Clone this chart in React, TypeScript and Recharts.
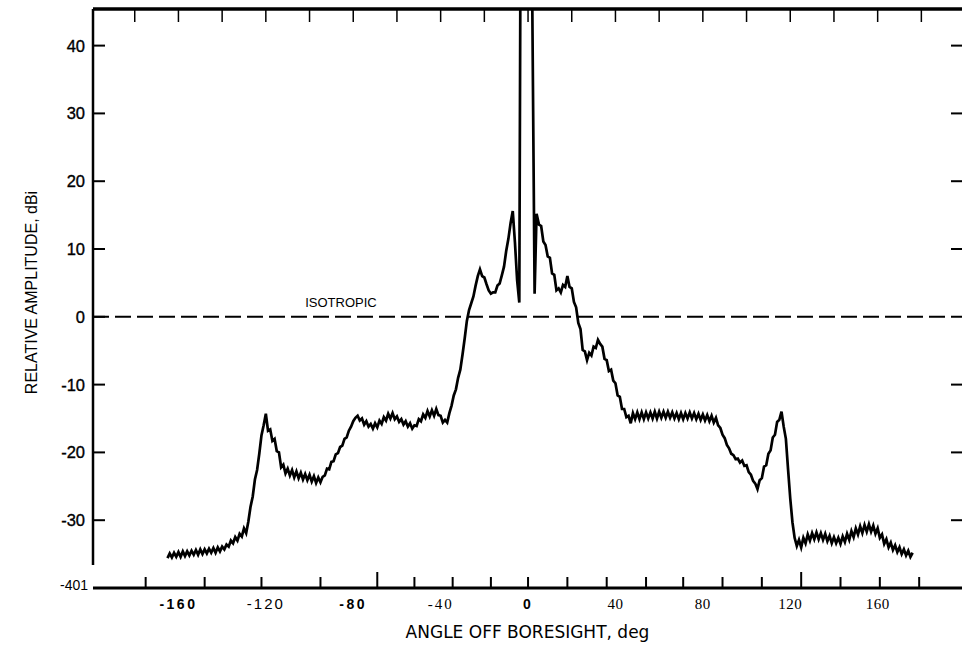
import { LineChart, Line, XAxis, YAxis, ReferenceLine, ReferenceDot, Label } from 'recharts';

// angle off boresight (deg)
const angleDeg = [
  -165, -164, -163, -162, -161, -160, -159, -158, -157, -156,
  -155, -154, -153, -152, -151, -150, -149, -148, -147, -146,
  -145, -144, -143, -142, -141, -140, -139, -138, -137, -136,
  -135, -134, -133, -132, -131, -130, -129, -128, -127, -126,
  -125, -124, -123, -122, -121, -120, -119, -118, -117, -116,
  -115, -114, -113, -112, -111, -110, -109, -108, -107, -106,
  -105, -104, -103, -102, -101, -100, -99, -98, -97, -96,
  -95, -94, -93, -92, -91, -90, -89, -88, -87, -86,
  -85, -84, -83, -82, -81, -80, -79, -78, -77, -76,
  -75, -74, -73, -72, -71, -70, -69, -68, -67, -66,
  -65, -64, -63, -62, -61, -60, -59, -58, -57, -56,
  -55, -54, -53, -52, -51, -50, -49, -48, -47, -46,
  -45, -44, -43, -42, -41, -40, -39, -38, -37, -36,
  -35, -34, -33, -32, -31, -30, -29, -28, -27, -26,
  -25, -24, -23, -22, -21, -20, -19, -18, -17, -16,
  -15, -14, -13, -12, -11, -10, -9, -8, -7, -6,
  -5, -4,
  -3.4, 1.6, 3.0, 3.9,
  5, 6, 7, 8, 9, 10, 11, 12, 13, 14,
  15, 16, 17, 18, 19, 20, 21, 22, 23, 24,
  25, 26, 27, 28, 29, 30, 31, 32, 33, 34,
  35, 36, 37, 38, 39, 40, 41, 42, 43, 44,
  45, 46, 47, 48, 49, 50, 51, 52, 53, 54,
  55, 56, 57, 58, 59, 60, 61, 62, 63, 64,
  65, 66, 67, 68, 69, 70, 71, 72, 73, 74,
  75, 76, 77, 78, 79, 80, 81, 82, 83, 84,
  85, 86, 87, 88, 89, 90, 91, 92, 93, 94,
  95, 96, 97, 98, 99, 100, 101, 102, 103, 104,
  105, 106, 107, 108, 109, 110, 111, 112, 113, 114,
  115, 116, 117, 118, 119, 120, 121, 122, 123, 124,
  125, 126, 127, 128, 129, 130, 131, 132, 133, 134,
  135, 136, 137, 138, 139, 140, 141, 142, 143, 144,
  145, 146, 147, 148, 149, 150, 151, 152, 153, 154,
  155, 156, 157, 158, 159, 160, 161, 162, 163, 164,
  165, 166, 167, 168, 169, 170, 171, 172, 173, 174,
  175, 176,
];

// relative amplitude (dBi); the main beam runs off the top of the plot
const amplitudeDbi = [
  -35.6, -34.9, -35.5, -34.8, -35.4, -34.7, -35.4, -34.6, -35.3, -34.6,
  -35.2, -34.5, -35.1, -34.4, -35.1, -34.3, -35.0, -34.3, -34.9, -34.2,
  -34.8, -34.1, -34.8, -34.0, -34.6, -33.9, -34.3, -33.6, -33.9, -33.0,
  -33.4, -32.5, -33.0, -32.0, -32.4, -31.2, -31.9, -30.2, -28.0, -26.5,
  -24.0, -22.6, -20.2, -17.5, -16.0, -14.3, -16.8, -16.6, -18.3, -18.0,
  -19.8, -20.0, -22.2, -21.8, -23.1, -22.4, -23.4, -22.6, -23.7, -22.8,
  -23.8, -23.0, -24.0, -23.2, -24.1, -23.3, -24.3, -23.5, -24.5, -23.7,
  -24.4, -23.6, -23.4, -22.4, -22.5, -21.4, -21.3, -20.3, -20.1, -19.2,
  -19.0, -18.0, -17.8, -16.8, -16.2, -15.4, -14.9, -14.6, -15.3, -15.0,
  -15.9, -15.4, -16.2, -15.8, -16.5, -15.7, -16.3, -15.3, -15.8, -14.8,
  -15.3, -14.3, -15.0, -14.2, -15.1, -14.7, -15.5, -15.1, -15.9, -15.4,
  -16.2, -15.7, -16.5, -16.0, -16.1, -15.1, -15.4, -14.4, -14.9, -13.9,
  -14.7, -13.8, -14.6, -13.6, -14.5, -14.6, -15.6, -15.2, -15.6, -14.2,
  -13.1, -11.6, -10.7, -9.0, -7.8, -5.6, -3.2, -0.6, 1.0, 2.0,
  3.0, 4.6, 6.0, 7.0, 6.0, 5.8, 4.8, 3.9, 3.4, 3.6,
  3.6, 4.6, 4.9, 6.1, 7.4, 9.7, 11.5, 13.8, 15.6, 11.0,
  5.4, 2.1,
  60, 60, 3.4, 15.2,
  13.6, 13.4, 11.1, 10.6, 8.9, 8.7, 6.4, 6.2, 3.9, 4.2,
  3.6, 4.7, 4.4, 6.0, 4.4, 4.2, 2.2, 1.4, -0.9, -1.8,
  -4.9, -5.1, -6.4, -5.3, -5.7, -4.4, -4.6, -3.4, -4.0, -4.4,
  -6.2, -6.4, -8.0, -7.8, -9.4, -9.8, -11.6, -11.8, -13.6, -13.6,
  -14.8, -14.6, -15.7, -14.2, -15.1, -14.1, -15.1, -14.1, -15.1, -14.1,
  -15.0, -14.1, -15.0, -14.0, -15.0, -14.0, -14.9, -14.0, -14.9, -14.0,
  -14.9, -14.1, -15.0, -14.2, -15.1, -14.2, -15.1, -14.2, -15.0, -14.1,
  -15.0, -14.2, -15.1, -14.3, -15.2, -14.4, -15.3, -14.5, -15.4, -14.6,
  -15.6, -14.9, -16.0, -16.4, -17.4, -17.9, -18.9, -19.4, -20.2, -20.4,
  -21.0, -20.9, -21.5, -21.2, -22.0, -21.9, -22.9, -23.3, -24.2, -24.6,
  -25.4, -24.1, -23.8, -22.1, -21.9, -20.2, -19.7, -17.8, -17.4, -15.5,
  -15.2, -14.0, -16.2, -18.0, -22.5, -26.8, -30.3, -32.6, -33.8, -32.9,
  -34.0, -32.6, -33.4, -32.1, -33.0, -31.9, -32.8, -31.8, -32.8, -31.9,
  -32.9, -32.0, -33.1, -32.3, -33.4, -32.5, -33.4, -32.6, -33.5, -32.4,
  -33.2, -32.0, -32.9, -31.6, -32.5, -31.2, -32.1, -30.9, -31.9, -30.7,
  -31.7, -30.6, -31.7, -30.8, -32.0, -31.2, -32.6, -32.1, -33.5, -32.8,
  -34.0, -33.3, -34.4, -33.7, -34.7, -34.0, -35.0, -34.3, -35.2, -34.5,
  -35.4, -34.8,
];

const xLabelValues = [-160, -120, -80, -40, 0, 40, 80, 120, 160];
const bottomTickMarks = [-175, -148, -122, -95, -69, -52, -34.5, -17, 0, 18, 36, 54, 71, 89, 107, 125, 143, 161, 179];
const topTickMarks = [-180, -160, -140, -120, -100, -80, -60, -40, -20, 0, 20, 40, 60, 80, 100, 120, 140, 160, 180];
const yTickValues = [-40, -30, -20, -10, 0, 10, 20, 30, 40];
const yTickLabels = ['-401', '-30', '-20', '-10', '0', '10', '20', '30', '40'];
const rightTickValues = [-30, -20, -10, 10, 20, 30, 40];
const isotropicLevel = 0;
const isotropicLabelAngle = -102;
const xDomain = [-199.1, 198.6];
const yDomain = [-40, 45.4];
const leftAxisBottom = -36.6;

const data = angleDeg.map((angle, i) => ({ angle, dbi: amplitudeDbi[i] }));

const SANS = '"Liberation Sans", Arial, Helvetica, sans-serif';
const SERIF = '"Liberation Serif", "Times New Roman", serif';

const sansBold = { family: SANS, weight: 700, size: 14, spacing: 2.5 };
const sansPlain = { family: SANS, weight: 400, size: 15, spacing: 2 };
const serifPlain = { family: SERIF, weight: 400, size: 15, spacing: 0.5 };
const labelFace: Record<string, typeof sansBold> = {
  '-160': sansBold,
  '-120': sansPlain,
  '-80': sansBold,
  '-40': { ...serifPlain, spacing: 2 },
  '0': sansBold,
  '40': serifPlain,
  '80': serifPlain,
  '120': serifPlain,
  '160': serifPlain,
};
const tallMarks = [-69, 125];

const bottomTicks = Array.from(new Set([...xLabelValues, ...bottomTickMarks])).sort((a, b) => a - b);

function BottomTick(props: any) {
  const { x, y, payload } = props;
  const v = payload.value as number;
  const face = labelFace[String(v)];
  return (
    <g>
      {bottomTickMarks.includes(v) && (
        <line x1={x} x2={x} y1={y} y2={y - (tallMarks.includes(v) ? 16 : 11)} stroke="#000" strokeWidth={2} />
      )}
      {xLabelValues.includes(v) && face && (
        <text
          x={x}
          y={y + 21}
          textAnchor="middle"
          fontFamily={face.family}
          fontWeight={face.weight}
          fontSize={face.size}
          letterSpacing={face.spacing}
          fill="#000"
        >
          {String(v)}
        </text>
      )}
    </g>
  );
}

function TopTick(props: any) {
  const { x, y } = props;
  return <line x1={x} x2={x} y1={y} y2={y + 13} stroke="#000" strokeWidth={1.5} />;
}

function LeftTick(props: any) {
  const { x, y, payload } = props;
  const v = payload.value as number;
  const label = yTickLabels[yTickValues.indexOf(v)];
  if (v === yDomain[0]) {
    return (
      <text x={x - 5} y={y + 2} textAnchor="end" fontFamily={SANS} fontSize={14} fill="#000">
        {label}
      </text>
    );
  }
  return (
    <g>
      <line x1={x} x2={x + 12} y1={y} y2={y} stroke="#000" strokeWidth={2} />
      <text
        x={x - 8}
        y={y + 6}
        textAnchor="end"
        fontFamily={SANS}
        fontSize={16.5}
        fill="#000"
        stroke="#000"
        strokeWidth={0.35}
      >
        {label}
      </text>
    </g>
  );
}

function RightTick(props: any) {
  const { x, y } = props;
  return <line x1={x - 11} x2={x} y1={y} y2={y} stroke="#000" strokeWidth={2} />;
}

function IsotropicText(props: any) {
  const { cx, cy } = props;
  return (
    <text x={cx} y={cy - 10} fontFamily={SANS} fontSize={13} fill="#000">
      ISOTROPIC
    </text>
  );
}

function YTitle(props: any) {
  const vb = props.viewBox;
  const cx = vb.x + 31;
  const cy = vb.y + vb.height / 2 - 6;
  return (
    <text
      x={cx}
      y={cy}
      transform={`rotate(-90 ${cx} ${cy})`}
      textAnchor="middle"
      dominantBaseline="central"
      fontFamily={SANS}
      fontSize={16}
      fill="#000"
    >
      RELATIVE AMPLITUDE, dBi
    </text>
  );
}

function XTitle(props: any) {
  const vb = props.viewBox;
  return (
    <text
      x={vb.x + vb.width / 2}
      y={vb.y + 50}
      textAnchor="middle"
      fontFamily='"DejaVu Sans", Verdana, sans-serif'
      fontSize={17}
      fill="#000"
    >
      ANGLE OFF BORESIGHT, deg
    </text>
  );
}

export default function App() {
  return (
    <div style={{ position: 'absolute', left: 0, top: 0, width: 963, height: 646, background: '#fff' }}>
      <LineChart width={963} height={646} data={data} margin={{ top: 8, right: 0, bottom: 0, left: 0 }}>
        <XAxis
          dataKey="angle"
          type="number"
          domain={xDomain}
          allowDataOverflow
          ticks={bottomTicks}
          interval={0}
          height={58}
          tickSize={0}
          tickMargin={0}
          tickLine={false}
          axisLine={{ stroke: '#000', strokeWidth: 3 }}
          tick={<BottomTick />}
        >
          <Label content={<XTitle />} />
        </XAxis>
        <XAxis
          xAxisId="top"
          dataKey="angle"
          orientation="top"
          type="number"
          domain={xDomain}
          allowDataOverflow
          ticks={topTickMarks}
          interval={0}
          height={1}
          tickSize={0}
          tickMargin={0}
          tickLine={false}
          axisLine={{ stroke: '#000', strokeWidth: 3.5 }}
          tick={<TopTick />}
        />
        <YAxis
          type="number"
          domain={yDomain}
          allowDataOverflow
          ticks={yTickValues}
          interval={0}
          width={93}
          tickSize={0}
          tickMargin={0}
          tickLine={false}
          axisLine={false}
          tick={<LeftTick />}
        >
          <Label content={<YTitle />} />
        </YAxis>
        <YAxis
          yAxisId="right"
          orientation="right"
          type="number"
          domain={yDomain}
          allowDataOverflow
          ticks={rightTickValues}
          interval={0}
          width={1}
          tickSize={0}
          tickMargin={0}
          tickLine={false}
          axisLine={false}
          tick={<RightTick />}
        />
        <ReferenceLine
          segment={[
            { x: xDomain[0], y: leftAxisBottom },
            { x: xDomain[0], y: yDomain[1] },
          ]}
          stroke="#000"
          strokeWidth={2.5}
          ifOverflow="visible"
        />
        <ReferenceLine y={isotropicLevel} stroke="#000" strokeWidth={2} strokeDasharray="16 6" />
        <ReferenceDot x={isotropicLabelAngle} y={isotropicLevel} r={0} shape={<IsotropicText />} />
        <Line
          dataKey="dbi"
          type="linear"
          stroke="#000"
          strokeWidth={2.7}
          dot={false}
          isAnimationActive={false}
        />
        {/* invisible twin so the top and right frame axes get drawn */}
        <Line
          xAxisId="top"
          yAxisId="right"
          dataKey="dbi"
          stroke="none"
          dot={false}
          activeDot={false}
          legendType="none"
          isAnimationActive={false}
        />
      </LineChart>
    </div>
  );
}
